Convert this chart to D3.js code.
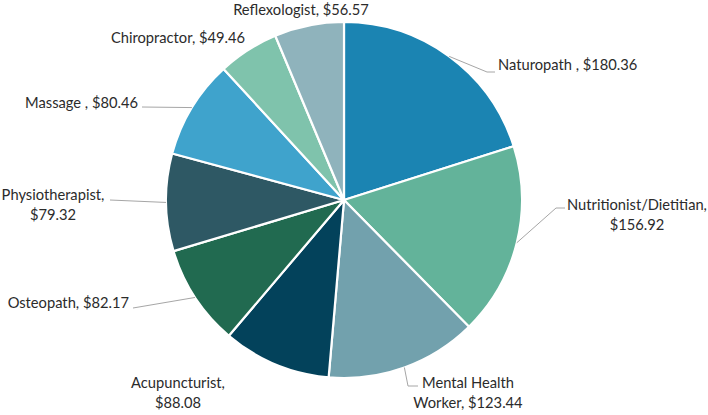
<!DOCTYPE html>
<html>
<head>
<meta charset="utf-8">
<script src="https://cdn.jsdelivr.net/npm/d3@7"></script>
<style>
  body { margin: 0; background: #fff; }
  svg text { font-family: Lato, "Open Sans", sans-serif; font-size: 14.7px; fill: #2b2b2b; }
</style>
</head>
<body>
<svg id="chart"></svg>
<script>
// data (clockwise from 12 o'clock)
const categories = ["Naturopath ", "Nutritionist/Dietitian", "Mental Health Worker", "Acupuncturist",
  "Osteopath", "Physiotherapist", "Massage ", "Chiropractor", "Reflexologist"];
const values = [180.36, 156.92, 123.44, 88.08, 82.17, 79.32, 80.46, 49.46, 56.57];
const colors = ["#1b84b2", "#63b39a", "#72a1ad", "#03425b", "#216a50", "#2e5864", "#3fa3cc", "#7fc3ac", "#8fb3bc"];

// label layout: text lines, anchor point, optional leader elbow
const labelLayout = [
  {lines: ["Naturopath , $180.36"], x: 498, y: 70, anchor: "start", elbow: [[487, 72], [495, 72]]},
  {lines: ["Nutritionist/Dietitian,", "$156.92"], x: 637, y: 210, anchor: "middle", elbow: [[556, 208], [565, 208]]},
  {lines: ["Mental Health", "Worker, $123.44"], x: 468, y: 388, anchor: "middle", elbow: [[408, 386], [418, 386]]},
  {lines: ["Acupuncturist,", "$88.08"], x: 178, y: 388, anchor: "middle", elbow: null},
  {lines: ["Osteopath, $82.17"], x: 129, y: 308, anchor: "end", elbow: [[133, 308]]},
  {lines: ["Physiotherapist,", "$79.32"], x: 53, y: 200, anchor: "middle", elbow: [[110, 200]]},
  {lines: ["Massage , $80.46"], x: 138, y: 108, anchor: "end", elbow: [[142, 107]]},
  {lines: ["Chiropractor, $49.46"], x: 178, y: 43, anchor: "middle", elbow: null},
  {lines: ["Reflexologist, $56.57"], x: 301, y: 15, anchor: "middle", elbow: null}
];

const width = 708, height = 415;
const cx = 344, cy = 200, radius = 178;

const svg = d3.select("#chart")
    .attr("width", width)
    .attr("height", height);

const pie = d3.pie().sort(null).value(d => d);
const arcs = pie(values);

const arc = d3.arc().innerRadius(0).outerRadius(radius);
const edgeArc = d3.arc().innerRadius(radius).outerRadius(radius);

const g = svg.append("g")
    .attr("transform", "translate(" + cx + "," + cy + ")");

// slices
g.selectAll("path.slice")
    .data(arcs)
    .enter()
    .append("path")
    .attr("class", "slice")
    .attr("d", arc)
    .attr("fill", (d, i) => colors[i])
    .attr("stroke", "#fff")
    .attr("stroke-width", 2.2)
    .attr("stroke-linejoin", "round");

// leader lines from the slice edge to the label
svg.selectAll("polyline.leader")
    .data(arcs.filter((d, i) => labelLayout[i].elbow))
    .enter()
    .append("polyline")
    .attr("class", "leader")
    .attr("points", function(d) {
      const c = edgeArc.centroid(d);
      const pts = [[cx + c[0], cy + c[1]]].concat(labelLayout[d.index].elbow);
      return pts.map(p => p.join(",")).join(" ");
    })
    .attr("fill", "none")
    .attr("stroke", "#a6a6a6")
    .attr("stroke-width", 1);

// labels
const labels = svg.selectAll("text.label")
    .data(arcs)
    .enter()
    .append("text")
    .attr("class", "label")
    .attr("text-anchor", (d, i) => labelLayout[i].anchor);

labels.selectAll("tspan")
    .data((d, i) => labelLayout[i].lines.map(t => ({t: t, x: labelLayout[i].x, y: labelLayout[i].y})))
    .enter()
    .append("tspan")
    .attr("x", d => d.x)
    .attr("y", (d, j) => d.y + j * 20)
    .text(d => d.t);
</script>
</body>
</html>
